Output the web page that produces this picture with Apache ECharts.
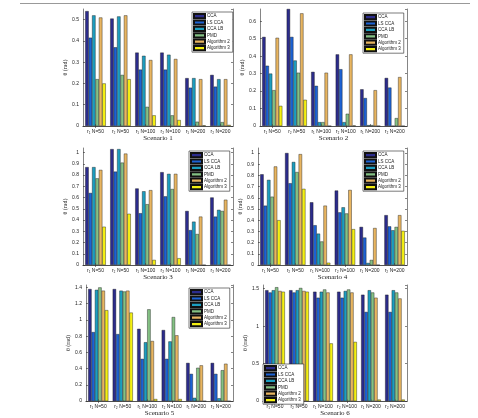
<!DOCTYPE html>
<html>
<head>
<meta charset="utf-8">
<script src="https://cdn.jsdelivr.net/npm/echarts@6/dist/echarts.min.js"></script>
<style>
html,body{margin:0;padding:0;background:#fff;}
#chart{width:478px;height:418px;}
</style>
</head>
<body>
<div id="chart"></div>
<script>
// categories and methods
var groups = ['r\u2081 N=50', 'r\u2082 N=50', 'r\u2081 N=100', 'r\u2082 N=100', 'r\u2081 N=200', 'r\u2082 N=200'];
var methods = ['CCA', 'LS CCA', 'CCA LB', 'PMD', 'Algorithm 2', 'Algorithm 3'];
var colors = ['#2c2c8c', '#1c62d4', '#1c9ec0', '#84c184', '#e8b560', '#f4f012'];

// one row per method, one value per group
var s1 = [
	[0.54, 0.505, 0.345, 0.345, 0.225, 0.24],
	[0.415, 0.37, 0.265, 0.265, 0.18, 0.185],
	[0.52, 0.515, 0.33, 0.335, 0.225, 0.22],
	[0.22, 0.24, 0.09, 0.05, 0.02, 0.018],
	[0.51, 0.52, 0.31, 0.315, 0.22, 0.22],
	[0.20, 0.22, 0.05, 0.028, 0.003, 0.005]
];
var s2 = [
	[0.51, 0.67, 0.31, 0.41, 0.21, 0.275],
	[0.345, 0.51, 0.23, 0.325, 0.16, 0.22],
	[0.30, 0.375, 0.022, 0.022, 0.005, 0],
	[0.205, 0.305, 0.022, 0.07, 0.005, 0.045],
	[0.505, 0.645, 0.305, 0.41, 0.205, 0.28],
	[0.115, 0.15, 0, 0.003, 0, 0]
];
var s3 = [
	[0.87, 1.03, 0.68, 0.825, 0.48, 0.60],
	[0.64, 0.83, 0.46, 0.61, 0.31, 0.43],
	[0.87, 1.03, 0.655, 0.81, 0.385, 0.49],
	[0.77, 0.91, 0.54, 0.675, 0.275, 0.48],
	[0.845, 0.99, 0.665, 0.81, 0.43, 0.58],
	[0.34, 0.455, 0.045, 0.06, 0, 0]
];
var s4 = [
	[0.81, 1.0, 0.56, 0.665, 0.34, 0.445],
	[0.53, 0.73, 0.355, 0.47, 0.245, 0.345],
	[0.76, 0.92, 0.28, 0.515, 0.018, 0.31],
	[0.61, 0.83, 0.21, 0.46, 0.045, 0.34],
	[0.88, 0.99, 0.53, 0.67, 0.33, 0.445],
	[0.40, 0.68, 0.02, 0.32, 0, 0.305]
];
var s5 = [
	[1.38, 1.38, 0.89, 0.875, 0.47, 0.47],
	[0.85, 0.825, 0.52, 0.52, 0.335, 0.335],
	[1.37, 1.36, 0.725, 0.735, 0.04, 0.035],
	[1.40, 1.35, 1.13, 1.035, 0.41, 0.38],
	[1.36, 1.36, 0.74, 0.81, 0.44, 0.46],
	[1.12, 1.09, 0.025, 0.025, 0, 0]
];
var s6 = [
	[1.48, 1.48, 1.46, 1.46, 1.42, 1.42],
	[1.45, 1.45, 1.38, 1.38, 1.19, 1.19],
	[1.48, 1.48, 1.46, 1.47, 1.48, 1.48],
	[1.52, 1.51, 1.49, 1.49, 1.45, 1.45],
	[1.47, 1.47, 1.45, 1.45, 1.38, 1.37],
	[1.46, 1.46, 0.77, 0.79, 0.02, 0.02]
];
var scenarios = [s1, s2, s3, s4, s5, s6];
var titles = ['Scenario 1', 'Scenario 2', 'Scenario 3', 'Scenario 4', 'Scenario 5', 'Scenario 6'];
var yMax = [0.55, 0.67, 1.04, 1.045, 1.43, 1.55];
var yStep = [0.1, 0.1, 0.1, 0.1, 0.2, 0.5];

// layout of the six panels
var grids = [
	{left: 83, top: 9, width: 150, height: 117},
	{left: 260, top: 9, width: 147, height: 117},
	{left: 83, top: 148, width: 150, height: 117},
	{left: 258, top: 148, width: 149, height: 117},
	{left: 86, top: 285, width: 147, height: 117},
	{left: 263, top: 285, width: 144, height: 117}
];
var legendPos = [
	{left: 192, top: 12},
	{left: 363, top: 13},
	{left: 189, top: 151},
	{left: 363, top: 151},
	{left: 189, top: 288},
	{left: 263, top: 364}
];

var chart = echarts.init(document.getElementById('chart'));

var tickStyle = {show: true, inside: true, length: 2, lineStyle: {color: '#333', width: 0.6}};
var lineStyle = {show: true, lineStyle: {color: '#333', width: 0.6}};

var option = {
	animation: false,
	backgroundColor: '#fff',
	grid: [],
	xAxis: [],
	yAxis: [],
	legend: [],
	series: [],
	graphic: [{
		type: 'line',
		shape: {x1: 20, y1: 3.5, x2: 470, y2: 3.5},
		style: {stroke: '#999', lineWidth: 1}
	}]
};

for (var i = 0; i < 6; i++) {
	var g = grids[i];
	option.grid.push({left: g.left, top: g.top, width: g.width, height: g.height, show: false});

	// bottom axis with labels, top axis for the box
	option.xAxis.push({
		type: 'category', gridIndex: i, data: groups, position: 'bottom',
		name: titles[i], nameLocation: 'middle', nameGap: i >= 4 ? 8 : 9,
		nameTextStyle: {fontFamily: 'Liberation Serif', fontSize: 7, color: '#222'},
		axisLine: lineStyle,
		axisTick: {show: true, inside: true, length: 2, alignWithLabel: true, lineStyle: {color: '#333', width: 0.6}},
		axisLabel: {fontSize: 5, color: '#222', margin: 3, interval: 0}
	});
	option.xAxis.push({
		type: 'category', gridIndex: i, data: groups, position: 'top',
		axisLine: lineStyle,
		axisTick: {show: true, inside: true, length: 2, alignWithLabel: true, lineStyle: {color: '#333', width: 0.6}},
		axisLabel: {show: false}
	});

	option.yAxis.push({
		type: 'value', gridIndex: i, min: 0, max: yMax[i], interval: yStep[i], position: 'left',
		name: '\u03b8 (rad)', nameLocation: 'middle', nameGap: 14,
		nameTextStyle: {fontFamily: 'Liberation Serif', fontSize: 6, color: '#222'},
		splitLine: {show: false},
		axisLine: lineStyle,
		axisTick: tickStyle,
		axisLabel: {fontSize: 5, color: '#222', margin: 4, showMaxLabel: false}
	});
	option.yAxis.push({
		type: 'value', gridIndex: i, min: 0, max: yMax[i], interval: yStep[i], position: 'right',
		splitLine: {show: false},
		axisLine: lineStyle,
		axisTick: tickStyle,
		axisLabel: {show: false}
	});

	option.legend.push({
		orient: 'vertical', left: legendPos[i].left, top: legendPos[i].top,
		data: methods,
		backgroundColor: '#fff', borderColor: '#222', borderWidth: 0.6,
		padding: [1, 3, 1, 1],
		itemWidth: 11, itemHeight: 4.2, itemGap: 0.2,
		icon: 'rect',
		textStyle: {fontSize: 4.5, lineHeight: 5, height: 5, color: '#222', padding: [0, 0, 0, -3]},
		selectedMode: false
	});

	var rows = scenarios[i];
	for (var m = 0; m < 6; m++) {
		option.series.push({
			name: methods[m],
			type: 'bar',
			xAxisIndex: i * 2,
			yAxisIndex: i * 2,
			data: rows[m],
			barGap: '0%',
			barCategoryGap: '18%',
			itemStyle: {color: colors[m], borderColor: '#111', borderWidth: 0.4}
		});
	}
}

chart.setOption(option);
</script>
</body>
</html>
